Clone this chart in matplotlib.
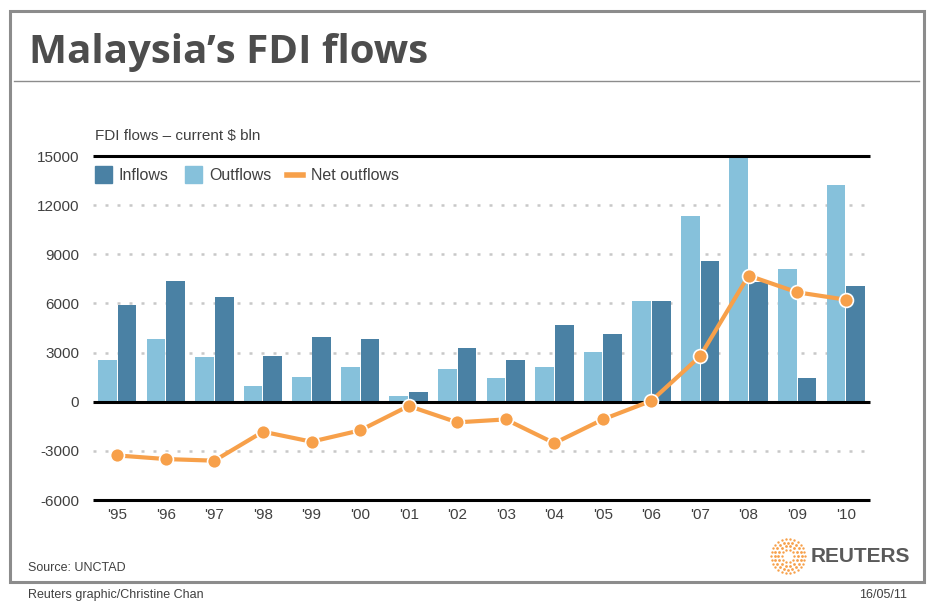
import numpy as np
import matplotlib
matplotlib.use('Agg')
import matplotlib.pyplot as plt
from matplotlib.patches import Rectangle
from matplotlib.lines import Line2D

years = ["'95", "'96", "'97", "'98", "'99", "'00", "'01", "'02",
         "'03", "'04", "'05", "'06", "'07", "'08", "'09", "'10"]
inflows = [5890, 7350, 6370, 2770, 3930, 3810, 570, 3260,
           2530, 4660, 4110, 6130, 8570, 7320, 1430, 7050]
outflows = [2530, 3810, 2710, 940, 1490, 2100, 330, 1980,
            1430, 2100, 3010, 6130, 11320, 15050, 8090, 13220]
net_outflows = [-3280, -3500, -3600, -1830, -2440, -1750, -260, -1260,
                -1080, -2530, -1080, 60, 2770, 7700, 6680, 6230]
yticks = [-6000, -3000, 0, 3000, 6000, 9000, 12000, 15000]

c_in = '#4a81a4'
c_out = '#86c1db'
c_net = '#f7a04a'
c_text = '#404040'

plt.rcParams['font.family'] = ['Liberation Sans', 'DejaVu Sans']

fig = plt.figure(figsize=(9.34, 6.10), dpi=100)

# outer frame and title rule
fig.add_artist(Rectangle((9.5 / 934, 1 - 581.5 / 610), 914 / 934, 571 / 610,
                         transform=fig.transFigure, fill=False,
                         edgecolor='#8c8c8c', linewidth=2.2))
fig.add_artist(Line2D([14 / 934, 919 / 934], [1 - 81 / 610, 1 - 81 / 610],
                      transform=fig.transFigure, color='#8c8c8c', linewidth=1))

fig.text(29 / 934, 1 - 63 / 610, 'Malaysia\u2019s FDI flows', fontsize=29,
         fontweight='bold', family=['Open Sans', 'DejaVu Sans'],
         color='#4d4d4d', va='baseline', ha='left')

ax = fig.add_axes([93 / 934, 1 - 500 / 610, 777 / 934, 344 / 610])
x = np.arange(len(years))
w = 0.385
ax.bar(x - w / 2 - 0.01, outflows, width=w, color=c_out, zorder=2, linewidth=0)
ax.bar(x + w / 2 + 0.01, inflows, width=w, color=c_in, zorder=2, linewidth=0)
ax.plot(x, net_outflows, color=c_net, linewidth=3, marker='o', markersize=10,
        markerfacecolor=c_net, markeredgecolor='white', markeredgewidth=1.2,
        zorder=4, solid_capstyle='round')

for yv in yticks:
    if yv in (-6000, 0, 15000):
        ax.axhline(yv, color='black', linewidth=2.2, zorder=3, clip_on=False,
                   solid_capstyle='butt')
    else:
        ax.axhline(yv, color='#c8c8c8', linewidth=1.8,
                   linestyle=(0, (1.2, 3.6)), zorder=1)

ax.set_xlim(-0.5, len(years) - 0.5)
ax.set_ylim(-6000, 15000)
ax.set_yticks(yticks)
ax.set_yticklabels([str(v) for v in yticks])
ax.set_xticks(x)
ax.set_xticklabels(years)
ax.tick_params(length=0, labelsize=11, colors=c_text)
ax.tick_params(axis='y', pad=10)
ax.tick_params(axis='x', pad=6)
for s in ax.spines.values():
    s.set_visible(False)

fig.text(95 / 934, 1 - 136 / 610, 'FDI flows \u2013 current $ bln', fontsize=11,
         color=c_text, va='center', ha='left')

# legend
ly = 1 - 175 / 610
fig.add_artist(Rectangle((95 / 934, 1 - 183 / 610), 17 / 934, 17 / 610,
                         transform=fig.transFigure, color=c_in))
fig.text(119 / 934, ly, 'Inflows', fontsize=11.5, color=c_text, va='center')
fig.add_artist(Rectangle((185 / 934, 1 - 183 / 610), 17 / 934, 17 / 610,
                         transform=fig.transFigure, color=c_out))
fig.text(209 / 934, ly, 'Outflows', fontsize=11.5, color=c_text, va='center')
fig.add_artist(Line2D([287 / 934, 303 / 934], [ly, ly], transform=fig.transFigure,
                      color=c_net, linewidth=4))
fig.text(311 / 934, ly, 'Net outflows', fontsize=11.5, color=c_text, va='center')

# footer
fig.text(28 / 934, 1 - 568 / 610, 'Source: UNCTAD', fontsize=9, color=c_text,
         va='center')
fig.text(28 / 934, 1 - 595 / 610, 'Reuters graphic/Christine Chan', fontsize=9,
         color=c_text, va='center')
fig.text(907 / 934, 1 - 595 / 610, '16/05/11', fontsize=9, color=c_text,
         va='center', ha='right')

# Reuters logo
lax = fig.add_axes([770 / 934, 1 - 574 / 610, 36 / 934, 36 / 610])
lax.set_xlim(-1, 1)
lax.set_ylim(-1, 1)
lax.axis('off')
for r, n, s in [(0.35, 10, 3), (0.55, 14, 4), (0.75, 20, 4), (0.93, 26, 3)]:
    a = np.linspace(0, 2 * np.pi, n, endpoint=False)
    lax.scatter(r * np.cos(a), r * np.sin(a), s=s, color='#f7a04a', linewidths=0)
fig.text(811 / 934, 1 - 556 / 610, 'REUTERS', fontsize=15, fontweight='bold',
         color='#5a5a5a', va='center', ha='left')

fig.savefig('out.png', dpi=100)
